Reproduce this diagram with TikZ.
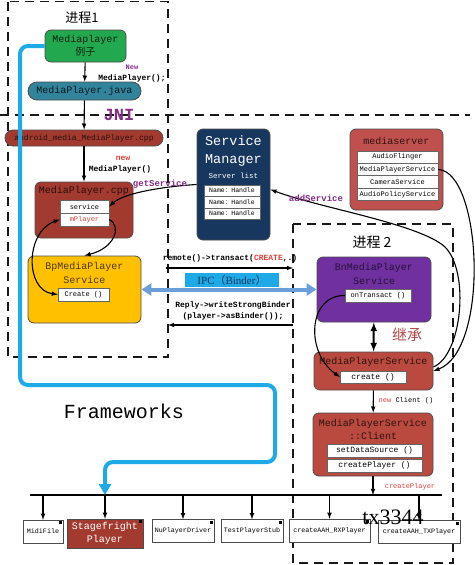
\documentclass[tikz,border=0pt]{standalone}
\usepackage{fontspec}
\setmainfont{Liberation Serif}
\setmonofont{Liberation Mono}
\newfontfamily\cjk{Noto Sans CJK SC}
\usetikzlibrary{arrows, arrows.meta, positioning}

\definecolor{mpgreen}{HTML}{22A84E}
\definecolor{mpteal}{HTML}{31849B}
\definecolor{jnired}{HTML}{A33A30}
\definecolor{bpyellow}{HTML}{FFC000}
\definecolor{smnavy}{HTML}{17375E}
\definecolor{msred}{HTML}{C0504D}
\definecolor{bnpurple}{HTML}{7030A0}
\definecolor{mpsred}{HTML}{BA4A40}
\definecolor{ipcblue}{HTML}{1DAAE6}
\definecolor{ipcarrow}{HTML}{6C9FDA}
\definecolor{lblpurple}{HTML}{852C85}
\definecolor{lblred}{HTML}{D9413A}

\begin{document}
\begin{tikzpicture}[x=1pt, y=1pt,
    box/.style={rectangle, draw=black!70, line width=0.8pt, rounded corners=6pt, align=center, font=\fontsize{10}{13}\selectfont\ttfamily},
    title/.style={align=center, inner sep=0pt, font=\fontsize{10}{14}\selectfont\ttfamily},
    cell/.style={rectangle, draw=black!60, fill=white, inner sep=0pt, font=\fontsize{7}{8}\selectfont\ttfamily},
    player/.style={rectangle, draw=black!70, fill=white, inner sep=0pt, minimum height=23pt, font=\fontsize{6.7}{8}\selectfont\ttfamily},
    tag/.style={inner sep=0.5pt, font=\fontsize{8}{9}\selectfont\ttfamily\bfseries},
    arrow/.style={->, >=latex, line width=1.1pt},
    dashbox/.style={draw=black!90, line width=1.6pt, dash pattern=on 9pt off 6pt},
    binder/.style={line width=4pt, color=ipcblue, rounded corners=8pt, -{Triangle[length=11pt,width=12pt]}}
]
\useasboundingbox (0,0) rectangle (474,-565);

% Process borders and JNI line
\draw[dashbox] (8,-1.5) rectangle (168,-357);
\draw[dashbox] (293,-224) rectangle (453,-563);
\draw[dashbox] (0,-115) -- (470,-115);
\node[font=\fontsize{17}{18}\selectfont\ttfamily\bfseries, text=lblpurple] (jni) at (119,-115) {JNI};
\node[font=\fontsize{13}{14}\selectfont\cjk] (proc1) at (82,-18) {进程1};
\node[font=\fontsize{14}{15}\selectfont\cjk] (proc2) at (372,-242) {进程 2};

% Java side
\node[box, fill=mpgreen, text=black!80!mpgreen, minimum width=81pt, minimum height=32pt, inner sep=0pt] (demo) at (85.5,-46) {Mediaplayer\\{\cjk 例子}};
\node[box, fill=mpteal, text=black!80!mpteal, rounded corners=9pt, minimum width=113pt, minimum height=18pt, inner sep=0pt] (java) at (84.5,-91) {MediaPlayer.java};
\node[box, fill=jnired, text=black!75!jnired, rounded corners=8pt, minimum width=158pt, minimum height=16pt, inner sep=0pt, font=\fontsize{8}{9}\selectfont\ttfamily] (jnicpp) at (84,-138) {android\_media\_MediaPlayer.cpp};

\node[tag, text=lblpurple, font=\fontsize{7}{8}\selectfont\ttfamily\bfseries] (newtag) at (132,-67) {New};
\node[tag] (newcall) at (132,-78) {MediaPlayer();};
\node[tag, text=lblred] (newtag2) at (123,-158) {new};
\node[tag] (newcall2) at (120,-169) {MediaPlayer()};

\draw[arrow] (demo) -- (java);
\draw[arrow] (java) -- (jnicpp);

% Native client
\node[box, fill=jnired, minimum width=98pt, minimum height=56pt] (mpcpp) at (84,-210) {};
\node[title, text=black!75!jnired] (mpcpptitle) at (84,-191) {MediaPlayer.cpp};
\node[cell, minimum width=49pt, minimum height=13pt] (svc) at (84.5,-206.5) {service};
\node[cell, minimum width=49pt, minimum height=13pt, text=lblred] (mpl) at (84.5,-219.5) {mPlayer};
\draw[arrow] (jnicpp) -- (mpcpp);

\node[box, fill=bpyellow, minimum width=113pt, minimum height=67pt] (bp) at (84.5,-289.5) {};
\node[title, text=black!70!bpyellow] (bptitle) at (84.5,-272.5) {BpMediaPlayer\\Service};
\node[cell, minimum width=51pt, minimum height=13pt] (bpcreate) at (83.5,-294.5) {Create ()};

\draw[<->, >=latex, line width=1.1pt] (mpl.west) .. controls (25,-232) and (25,-290) .. (bpcreate.west);
\draw[arrow] (mpl.east) .. controls (122,-226) and (115,-248) .. (bp.north);

% Service manager
\node[box, fill=smnavy, minimum width=73pt, minimum height=111pt] (sm) at (233.5,-184.5) {};
\node[title, text=white, font=\fontsize{13.5}{18}\selectfont\ttfamily] (smtitle) at (233.5,-151) {Service\\Manager};
\node[title, text=white, font=\fontsize{7.5}{9}\selectfont\ttfamily] (smlist) at (233.5,-176) {Server list};
\foreach \y/\n in {190.5/sma, 202/smb, 213.5/smc}
  \node[cell, minimum width=56pt, minimum height=11.5pt, font=\fontsize{6.5}{8}\selectfont\ttfamily] (\n) at (232,-\y) {Name{\cjk ：}Handle};

\draw[arrow] (sm.west) .. controls (170,-186) and (125,-192) .. (svc.east);
\node[tag, text=lblpurple, font=\fontsize{9}{10}\selectfont\ttfamily\bfseries] (gettag) at (160,-184) {getService};

% mediaserver
\node[box, fill=msred, minimum width=93pt, minimum height=81pt] (ms) at (396.5,-169.5) {};
\node[title, text=black!75!msred] (mstitle) at (396.5,-141) {mediaserver};
\node[cell, minimum width=81pt, minimum height=12.4pt] (msaf) at (397.5,-157) {AudioFlinger};
\node[cell, minimum width=81pt, minimum height=12.4pt] (msmps) at (397.5,-169.4) {MediaPlayerService};
\node[cell, minimum width=81pt, minimum height=12.4pt] (mscam) at (397.5,-181.8) {CameraService};
\node[cell, minimum width=81pt, minimum height=12.4pt] (msapol) at (397.5,-194.2) {AudioPolicyService};

% Binder call between the processes
\coordinate (callL) at (166,-268);
\coordinate (callR) at (293,-268);
\coordinate (replyL) at (168,-325);
\coordinate (replyR) at (293,-325);
\node[tag] (calltag) at (230,-258) {remote()->transact({\color{lblred}CREATE},.)};
\draw[arrow] (callL) -- (callR);
\node[fill=ipcblue, text=smnavy, minimum width=94pt, minimum height=14pt, inner sep=0pt, font=\fontsize{11}{12}\selectfont] (ipc) at (232,-280) {IPC{\cjk （}Binder{\cjk ）}};
\node[tag] (replytag) at (233,-305) {Reply->writeStrongBinder};
\node[tag] (replytag2) at (233,-316) {(player->asBinder());};
\draw[arrow] (replyR) -- (replyL);

% Server side
\node[box, fill=bnpurple, minimum width=114pt, minimum height=65pt] (bn) at (374,-289.5) {};
\node[title, text=black!65!bnpurple] (bntitle) at (374,-274) {BnMediaPlayer\\Service};
\node[cell, minimum width=66pt, minimum height=13pt] (ontr) at (378,-295.5) {onTransact ()};

\draw[ipcarrow, line width=4pt, {Triangle[length=10pt,width=12pt]}-{Triangle[length=10pt,width=12pt]}] (bp.east) -- (bn.west);

\node[box, fill=mpsred, minimum width=119pt, minimum height=38pt] (mps) at (373.5,-371) {};
\node[title, text=black!75!mpsred] (mpstitle) at (373.5,-362) {MediaPlayerService};
\node[cell, minimum width=66pt, minimum height=12pt, font=\fontsize{8}{9}\selectfont\ttfamily] (mpscreate) at (373,-377) {create ()};
\node[font=\fontsize{15}{16}\selectfont\cjk, text=msred!90!black] (inherit) at (407,-335) {继承};
\draw[<->, >=latex, line width=2pt] (bn) -- (mps);

\draw[arrow] (ontr.west) .. controls (308,-295) and (305,-352) .. (mpscreate.west);
\draw[arrow] (msmps.east) .. controls (482,-172) and (490,-350) .. (mps.east);
\draw[arrow] ([yshift=4pt]mps.east) .. controls (462,-355) and (470,-272) .. (445,-247) .. controls (420,-224) and (320,-208) .. ([yshift=-5pt]sm.east);
\node[tag, text=lblpurple, font=\fontsize{9}{10}\selectfont\ttfamily\bfseries] (addtag) at (316,-198) {addService};

\node[box, fill=mpsred, minimum width=120pt, minimum height=63pt] (client) at (373,-444.5) {};
\node[title, font=\fontsize{10}{13}\selectfont\ttfamily, text=black!75!mpsred] (clienttitle) at (373,-429.5) {MediaPlayerService\\::Client};
\node[cell, minimum width=95pt, minimum height=13.5pt, font=\fontsize{8}{9}\selectfont\ttfamily] (setds) at (374.5,-450.5) {setDataSource ()};
\node[cell, minimum width=95pt, minimum height=13.5pt, font=\fontsize{8}{9}\selectfont\ttfamily] (crpl) at (374.5,-465.5) {createPlayer ()};
\draw[arrow] (mps) -- (client);
\node[tag, font=\fontsize{7}{8}\selectfont\ttfamily] (clienttag) at (406,-401) {{\color{lblred}new} Client ()};

% Players
\coordinate (busL) at (30,-495);
\coordinate (busR) at (442,-495);
\draw[line width=1.1pt] (busL) -- (busR);
\draw[arrow] (client.south) -- (client.south |- busL);
\node[font=\fontsize{7}{8}\selectfont\ttfamily, text=lblred] (crtag) at (410,-487) {createPlayer};

\node[player, minimum width=40pt] (midi) at (43,-531.5) {MidiFile};
\node[player, fill=jnired, text=white, minimum width=76pt, minimum height=29pt, align=center, font=\fontsize{10}{13}\selectfont\ttfamily] (sf) at (105,-533.5) {Stagefright\\Player};
\node[player, minimum width=62pt] (nu) at (183,-531) {NuPlayerDriver};
\node[player, minimum width=62pt] (stub) at (252,-531) {TestPlayerStub};
\node[player, minimum width=81pt] (rx) at (329.5,-530.5) {createAAH\_RXPlayer};
\node[player, minimum width=82pt] (tx) at (419,-532) {createAAH\_TXPlayer};
\foreach \p in {midi,sf,nu,stub,rx,tx} {
  \draw[arrow] (\p.north |- busL) -- (\p.north);
  \fill (\p.north east) ++(-4.5,-1.5) rectangle ++(3,-3);
}

% Frameworks path
\node[font=\fontsize{20}{24}\selectfont\ttfamily] (fw) at (124,-411) {Frameworks};
\draw[binder] (demo.west) -- (20,-46) -- (20,-385) -- (275,-385) -- (275,-462) -- (105,-462) -- (sf.north |- busL);

\node[font=\fontsize{22}{24}\selectfont] (wm) at (393,-517) {tx3344};
\end{tikzpicture}
\end{document}
